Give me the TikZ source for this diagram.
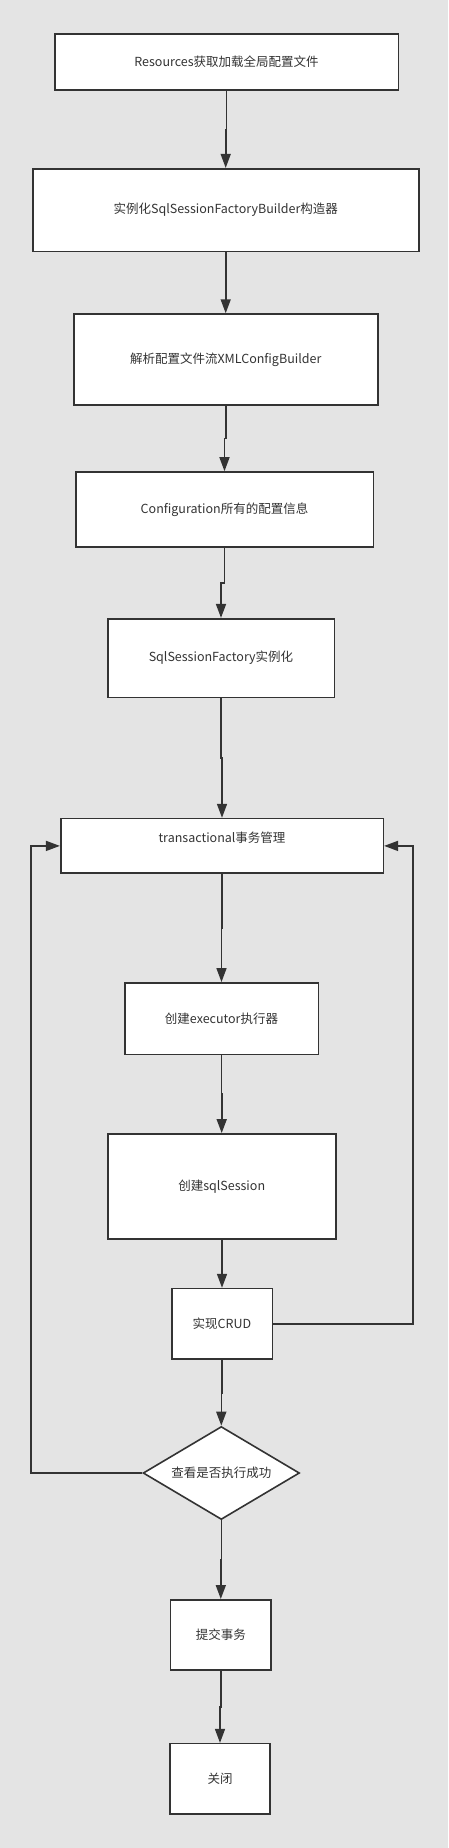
\documentclass[tikz,border=0pt]{standalone}
\usepackage{fontspec}
\setmainfont{Noto Sans CJK SC}
\usetikzlibrary{arrows.meta,shapes.geometric,calc}
\definecolor{bgc}{HTML}{E4E4E4}
\definecolor{ln}{HTML}{333333}
\begin{document}
\begin{tikzpicture}[x=1pt,y=-1pt,
  box/.style={draw=ln,line width=1.6pt,fill=white,rectangle,inner sep=0pt,
    font=\fontsize{12.5}{15}\selectfont,text=ln},
  dia/.style={draw=ln,line width=1.6pt,fill=white,diamond,inner sep=0pt,aspect=1.68,
    font=\fontsize{12.5}{15}\selectfont,text=ln},
  arr/.style={draw=ln,line width=1.6pt,-{Triangle[length=14pt,width=10pt]}},
  ln/.style={draw=ln,line width=1.6pt}]
\useasboundingbox (0,0) rectangle (448,1848);
\fill[bgc] (0,0) rectangle (448,1848);
\node[box,minimum width=343.6pt,minimum height=56.3pt] (b1) at (226.5,62) {Resources获取加载全局配置文件};
\node[box,minimum width=386pt,minimum height=82.6pt] (b2) at (225.7,210) {实例化SqlSessionFactoryBuilder构造器};
\node[box,minimum width=304pt,minimum height=90.7pt] (b3) at (225.7,359.4) {解析配置文件流XMLConfigBuilder};
\node[box,minimum width=297.6pt,minimum height=75pt] (b4) at (224.5,509.5) {Configuration所有的配置信息};
\node[box,minimum width=226.6pt,minimum height=78.6pt] (b5) at (221,658) {SqlSessionFactory实例化};
\node[box,minimum width=322.6pt,minimum height=54.6pt,text depth=18pt] (b6) at (222,845.9) {transactional事务管理};
\node[box,minimum width=193.6pt,minimum height=71.7pt] (b7) at (221.5,1018.7) {创建executor执行器};
\node[box,minimum width=228pt,minimum height=105pt] (b8) at (221.7,1186.4) {创建sqlSession};
\node[box,minimum width=100.6pt,minimum height=70.4pt] (b9) at (222,1323.8) {实现CRUD};
\node[dia,minimum width=156.4pt,minimum height=93pt] (d) at (221.3,1473) {查看是否执行成功};
\node[box,minimum width=100.3pt,minimum height=70pt] (b10) at (220.8,1634.8) {提交事务};
\node[box,minimum width=100pt,minimum height=70.3pt] (b11) at (220,1778.8) {关闭};
\foreach \a/\b in {b1/b2,b2/b3,b3/b4,b4/b5,b5/b6,b6/b7,b7/b8,b8/b9,b9/d,d/b10,b10/b11}{
  \draw[arr] (\a.south) |- ($(\a.south)!.5!(\b.north)$) -| (\b.north);
}
\coordinate (lc) at (31,0);
\coordinate (rc) at (412.7,0);
\draw[arr] (d.west) -- (d.west -| lc) |- (b6.west);
\draw[arr] (b9.east) -- (b9.east -| rc) |- (b6.east);
\end{tikzpicture}
\end{document}
